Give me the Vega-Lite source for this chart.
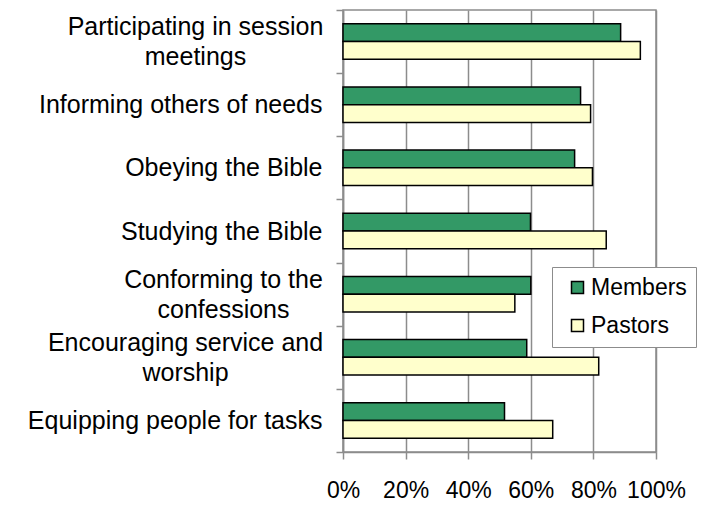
{
  "$schema": "https://vega.github.io/schema/vega-lite/v6.json",
  "autosize": {"type": "none"},
  "padding": {"left": 343, "top": 10, "right": 53, "bottom": 54},
  "width": 313,
  "height": 442,
  "background": "white",
  "config": {
    "font": "Liberation Sans",
    "view": {"stroke": "#8c8c8c", "strokeWidth": 1.5}
  },
  "data": {
    "values": [
      {"category": "Participating in session|meetings", "series": "Members", "value": 0.887},
      {"category": "Participating in session|meetings", "series": "Pastors", "value": 0.95},
      {"category": "Informing others of needs", "series": "Members", "value": 0.759},
      {"category": "Informing others of needs", "series": "Pastors", "value": 0.791},
      {"category": "Obeying the Bible", "series": "Members", "value": 0.74},
      {"category": "Obeying the Bible", "series": "Pastors", "value": 0.797},
      {"category": "Studying the Bible", "series": "Members", "value": 0.599},
      {"category": "Studying the Bible", "series": "Pastors", "value": 0.841},
      {"category": "Conforming to the|confessions", "series": "Members", "value": 0.6},
      {"category": "Conforming to the|confessions", "series": "Pastors", "value": 0.549},
      {"category": "Encouraging service and|worship", "series": "Members", "value": 0.587},
      {"category": "Encouraging service and|worship", "series": "Pastors", "value": 0.817},
      {"category": "Equipping people for tasks", "series": "Members", "value": 0.516},
      {"category": "Equipping people for tasks", "series": "Pastors", "value": 0.67}
    ]
  },
  "mark": {"type": "bar", "stroke": "black", "strokeWidth": 1.5},
  "encoding": {
    "y": {
      "field": "category",
      "type": "nominal",
      "sort": null,
      "scale": {"paddingInner": 0, "paddingOuter": 0},
      "axis": {
        "title": null,
        "labelExpr": "split(datum.label, '|')",
        "labelFontSize": 25,
        "labelLineHeight": 30,
        "labelColor": "black",
        "labelLimit": 400,
        "labelAlign": {"condition": {"test": "indexof(datum.label, '|') >= 0", "value": "center"}, "value": "right"},
        "labelPadding": {
          "condition": [
            {"test": "indexof(datum.label, 'Participating') >= 0", "value": 141},
            {"test": "indexof(datum.label, 'Conforming') >= 0", "value": 113},
            {"test": "indexof(datum.label, 'Encouraging') >= 0", "value": 151}
          ],
          "value": 14
        },
        "labelOffset": {"condition": {"test": "indexof(datum.label, '|') >= 0", "value": -15}, "value": 0},
        "tickBand": "extent",
        "tickSize": 7,
        "tickColor": "#8c8c8c",
        "tickWidth": 1.5,
        "domainColor": "#8c8c8c",
        "domainWidth": 1.5
      }
    },
    "yOffset": {
      "field": "series",
      "type": "nominal",
      "sort": ["Members", "Pastors"],
      "scale": {"paddingInner": 0, "paddingOuter": 0.78}
    },
    "x": {
      "field": "value",
      "type": "quantitative",
      "scale": {"domain": [0, 1], "nice": false},
      "axis": {
        "title": null,
        "format": "%",
        "values": [0, 0.2, 0.4, 0.6, 0.8, 1],
        "labelFontSize": 23,
        "labelColor": "black",
        "labelPadding": 20,
        "labelFlush": false,
        "labelOverlap": false,
        "tickSize": 7,
        "tickColor": "#8c8c8c",
        "tickWidth": 1.5,
        "domainColor": "#8c8c8c",
        "domainWidth": 1.5,
        "grid": true,
        "gridColor": "#8c8c8c",
        "gridWidth": 1.5
      }
    },
    "fill": {
      "field": "series",
      "type": "nominal",
      "scale": {"domain": ["Members", "Pastors"], "range": ["#339966", "#FFFFCC"]},
      "legend": {
        "title": null,
        "orient": "none",
        "legendX": 209,
        "legendY": 257,
        "symbolType": "square",
        "symbolSize": 144,
        "symbolStrokeColor": "black",
        "symbolStrokeWidth": 1.5,
        "symbolOffset": 5,
        "labelFontSize": 23,
        "labelColor": "black",
        "labelOffset": 2,
        "rowPadding": 14,
        "padding": 9,
        "strokeColor": "#8c8c8c",
        "fillColor": "white"
      }
    }
  }
}
